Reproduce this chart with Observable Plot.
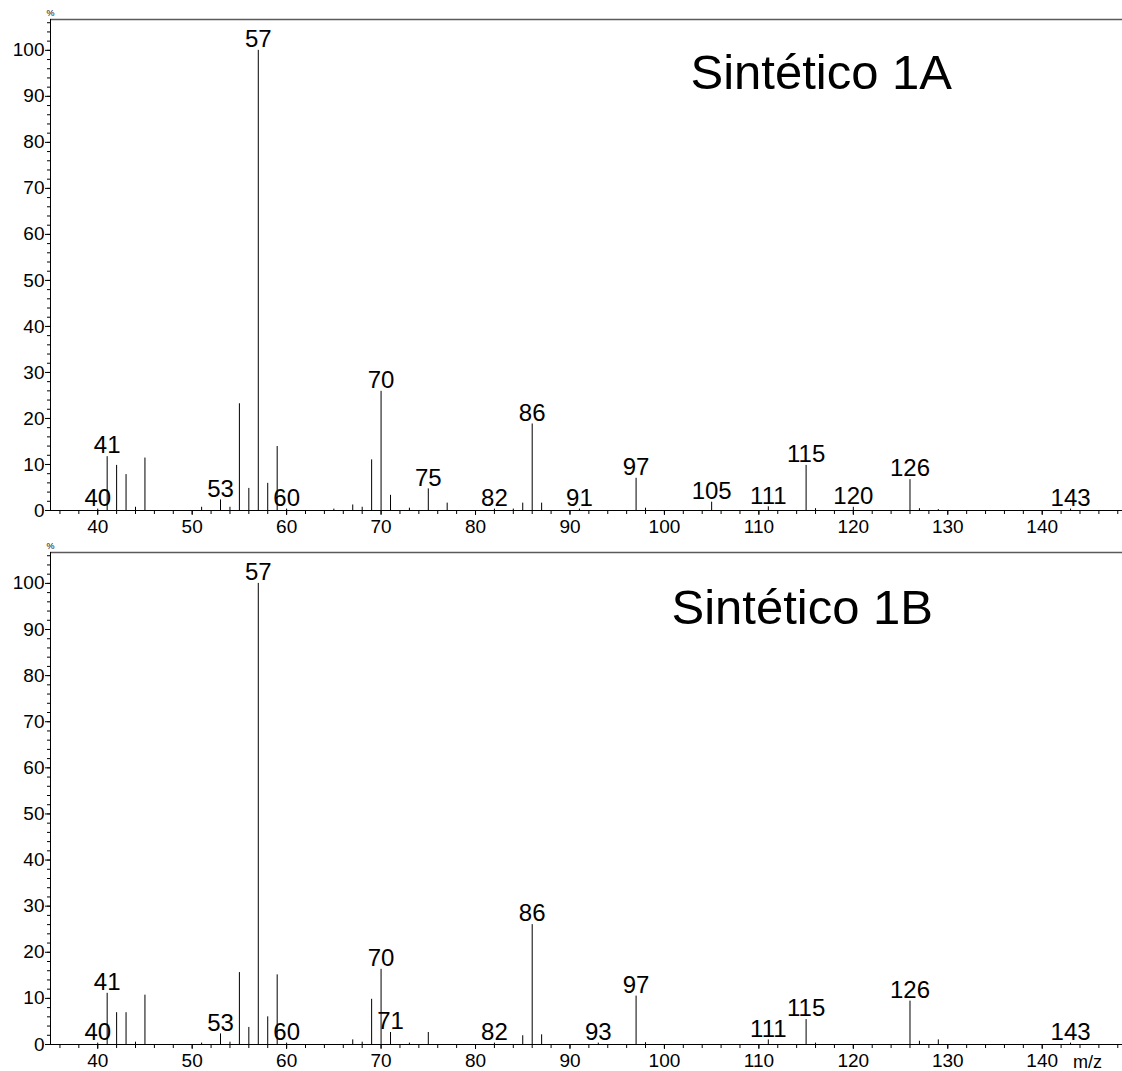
<!DOCTYPE html>
<html><head><meta charset="utf-8">
<script src="https://cdn.jsdelivr.net/npm/d3@7"></script>
<script src="https://cdn.jsdelivr.net/npm/@observablehq/plot@0.6"></script>
<style>body{margin:0;background:#fff} #chart svg{display:block}</style>
</head><body><div id="chart"></div>
<script>
// Spectrum A (Sintético 1A)
const mzA = [40,41,42,43,44,45,51,53,54,55,56,57,58,59,60,65,67,68,69,70,71,73,75,77,82,84,85,86,87,91,97,98,105,111,115,116,120,126,127,129,143];
const intA = [0.3,11.7,9.8,7.8,0.7,11.4,0.7,2.3,0.7,23.2,4.8,100,5.9,13.9,0.3,0.3,1.2,0.7,11.0,25.9,3.3,0.5,4.7,1.6,0.3,0.3,1.6,18.8,1.6,0.3,7.0,0.5,1.8,0.8,9.8,0.4,0.7,6.7,0.4,0.2,0.3];
const labelsA = [40,41,53,57,60,70,75,82,86,91,97,105,111,115,120,126,143];

// Spectrum B (Sintético 1B)
const mzB = [40,41,42,43,44,45,51,53,54,55,56,57,58,59,60,67,68,69,70,71,73,75,82,85,86,87,93,97,98,111,115,116,126,127,129,143];
const intB = [0.3,11.1,6.9,6.9,0.5,10.7,0.3,2.3,0.5,15.6,3.7,100,6.0,15.1,0.3,1.0,0.5,9.8,16.3,2.6,0.3,2.6,0.3,1.9,26.0,2.1,0.3,10.5,0.4,1.0,5.4,0.3,9.4,0.7,1.0,0.3];
const labelsB = [40,41,53,57,60,70,71,82,86,93,97,111,115,126,143];

const titles = ["Sintético 1A", "Sintético 1B"];
const xTicks = [40,50,60,70,80,90,100,110,120,130,140];
const yTicks = [0,10,20,30,40,50,60,70,80,90,100];
const xMinor = d3.range(36, 149, 2);
const yMinor = d3.range(0, 107, 2);
const xDomain = [35, 148.5];
const yDomain = [0, 106.7];
const font = "'Liberation Sans', Arial, sans-serif";

function spectrum({mz, intensity, labels, title, height, marginTop, marginBottom, titleDx, titleDy, showMz}) {
  const data = mz.map((m, i) => ({mz: m, v: intensity[i]}));
  const lab = data.filter(d => labels.includes(d.mz));
  return Plot.plot({
    width: 1122, height, marginTop, marginBottom, marginLeft: 50, marginRight: 0,
    style: {fontFamily: font, background: "white", color: "#000"},
    x: {domain: xDomain, label: null},
    y: {domain: yDomain, label: null},
    marks: [
      Plot.axisX({ticks: xMinor, tickSize: 4, tickFormat: () => "", label: null}),
      Plot.axisX({ticks: xTicks, tickSize: 5, tickPadding: 4, fontSize: 19, label: null}),
      Plot.axisY({ticks: yMinor, tickSize: 3, tickFormat: () => "", label: null}),
      Plot.axisY({ticks: yTicks, tickSize: 5, tickPadding: 1, fontSize: 19, label: null}),
      Plot.ruleY([yDomain[1]], {stroke: "#5a5a5a", strokeWidth: 1.5}),
      Plot.ruleX([xDomain[0]], {stroke: "#000"}),
      Plot.ruleY([0], {stroke: "#000"}),
      Plot.ruleX(data, {x: "mz", y1: 0, y2: "v", stroke: "#000", strokeWidth: 1}),
      Plot.text(lab, {x: "mz", y: "v", text: d => String(d.mz), fontSize: 24, dy: -11, fill: "#000"}),
      Plot.text([title], {frameAnchor: "top-left", textAnchor: "start", lineAnchor: "top", dx: titleDx, dy: titleDy, fontSize: 49, fill: "#000"}),
      Plot.text(["%"], {frameAnchor: "top-left", textAnchor: "middle", lineAnchor: "middle", dy: -6, fontSize: 9, fill: "#000"}),
      showMz ? Plot.text(["m/z"], {frameAnchor: "bottom-right", textAnchor: "middle", lineAnchor: "middle", dx: -35, dy: 18, fontSize: 18, fill: "#000"}) : null
    ]
  });
}

const chart = document.getElementById("chart");
chart.append(spectrum({mz: mzA, intensity: intA, labels: labelsA, title: titles[0],
  height: 540, marginTop: 19, marginBottom: 30, titleDx: 640, titleDy: 35, showMz: false}));
chart.append(spectrum({mz: mzB, intensity: intB, labels: labelsB, title: titles[1],
  height: 531, marginTop: 12, marginBottom: 27, titleDx: 621, titleDy: 37, showMz: true}));
</script>
</body></html>
